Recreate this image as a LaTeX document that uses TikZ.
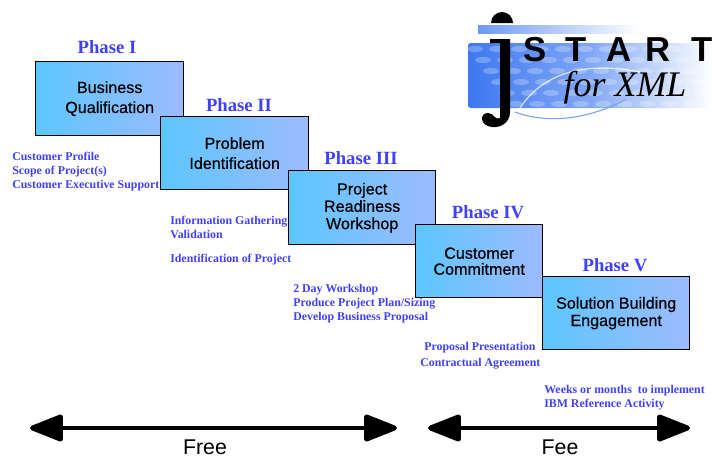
\documentclass[tikz,border=0pt]{standalone}
\usepackage{fontspec}
\setmainfont{Liberation Serif}
\setsansfont{Liberation Sans}
\newfontfamily\boxfont[FakeBold=0.6]{Liberation Sans}
\usetikzlibrary{arrows.meta}
\definecolor{phaseblue}{HTML}{4040FF}
\definecolor{boxleft}{HTML}{5CC6FF}
\definecolor{boxright}{HTML}{9DBBFF}
\definecolor{logoblue}{HTML}{3D78F0}
\begin{document}
\begin{tikzpicture}[
        x=0.75pt, y=-0.75pt,
        phasebox/.style={rectangle, draw=black, line width=1pt, left color=boxleft, right color=boxright, anchor=north west, align=center, inner sep=0pt, font=\boxfont\fontsize{12.1}{13}\selectfont, execute at begin node=\rule{0pt}{11.5pt}},
        phase/.style={font=\rmfamily\bfseries\fontsize{14}{16}\selectfont, text=phaseblue, inner sep=0pt},
        detail/.style={font=\rmfamily\bfseries\fontsize{8.9}{10.6}\selectfont, text=phaseblue, align=left, anchor=north west, inner sep=0pt},
        span/.style={line width=3.6pt, {Triangle[length=28pt,width=21pt,round]}-{Triangle[length=28pt,width=21pt,round]}},
        spanlabel/.style={font=\sffamily\fontsize{16}{18}\selectfont, inner sep=0pt},
        logoletter/.style={font=\sffamily\bfseries\fontsize{26}{28}\selectfont, inner sep=0pt},]

        \useasboundingbox (0,0) rectangle (713,457);

        % Logo
        \path[left color=logoblue!75, right color=white] (478,25) rectangle (640,33);
        \path[left color=logoblue, right color=white, middle color=logoblue!65, rounded corners=2pt] (468,43) rectangle (713,108);
        \foreach \i in {0,...,5}
            \foreach \j in {0,...,9}
                \fill[white, opacity=0.25] (475+\j*22+\i*8,49+\i*11) ellipse (8 and 3);
        \draw[white, line width=1pt, opacity=0.7] (520,108) .. controls (545,70) and (590,62) .. (640,72);
        \draw[logoblue!70, line width=0.8pt] (515,112) .. controls (550,125) and (590,118) .. (625,100);
        \fill[black] (491,23) arc (180:360:11) -- cycle;
        \fill[black] (490,39) -- (510,39) -- (510,112) .. controls (510,123) and (500,128) .. (492,127) .. controls (480,126) and (479,113) .. (488,113) .. controls (494,113) and (495,121) .. (500,118) -- (500,43) -- (490,43) -- cycle;
        \node[logoletter] (logos)  at (535,50) {S};
        \node[logoletter] (logot)  at (576,50) {T};
        \node[logoletter] (logoa)  at (619,50) {A};
        \node[logoletter] (logor)  at (658,50) {R};
        \node[logoletter] (logot2) at (702,50) {T};
        \node[font=\rmfamily\itshape\fontsize{27}{29}\selectfont, inner sep=0pt] (logoxml) at (625,88) {for XML};

        % Boxes
        \node[phasebox, minimum width=148*0.75pt, minimum height=74*0.75pt] (b1) at (35,61)   {Business\\[2pt]Qualification};
        \node[phasebox, minimum width=148*0.75pt, minimum height=73*0.75pt] (b2) at (160,116) {Problem\\[2pt]Identification};
        \node[phasebox, minimum width=147*0.75pt, minimum height=74*0.75pt] (b3) at (288,170) {Project\\Readiness\\Workshop};
        \node[phasebox, minimum width=127*0.75pt, minimum height=73*0.75pt] (b4) at (415,224) {Customer\\[-1pt]Commitment};
        \node[phasebox, minimum width=147*0.75pt, minimum height=73*0.75pt] (b5) at (542,276) {Solution Building\\Engagement};

        % Phases
        \node[phase] (p1) at (107,47)  {Phase I};
        \node[phase] (p2) at (239,105) {Phase II};
        \node[phase] (p3) at (361,158) {Phase III};
        \node[phase] (p4) at (488,212) {Phase IV};
        \node[phase] (p5) at (615,265) {Phase V};

        % Details
        \node[detail] (d1) at (12,152)  {Customer Profile\\Scope of Project(s)\\Customer Executive Support};
        \node[detail] (d2) at (170,216) {Information Gathering\\Validation\\[7pt]Identification of Project};
        \node[detail] (d3) at (293,284) {2 Day Workshop\\Produce Project Plan/Sizing\\Develop Business Proposal};
        \node[detail] (d4) at (424,342) {Proposal Presentation};
        \node[detail] (d5) at (420,358) {Contractual Agreement};
        \node[detail] (d6) at (544,385) {Weeks or months~ to implement\\IBM Reference Activity};

        % Free and Fee
        \coordinate (free0) at (30,428);
        \coordinate (free1) at (397,428);
        \coordinate (fee0) at (428,428);
        \coordinate (fee1) at (690,428);
        \draw[span] (free0) -- (free1);
        \draw[span] (fee0) -- (fee1);
        \node[spanlabel] (free) at (205,447) {Free};
        \node[spanlabel] (fee) at (560,447) {Fee};
    \end{tikzpicture}
\end{document}
